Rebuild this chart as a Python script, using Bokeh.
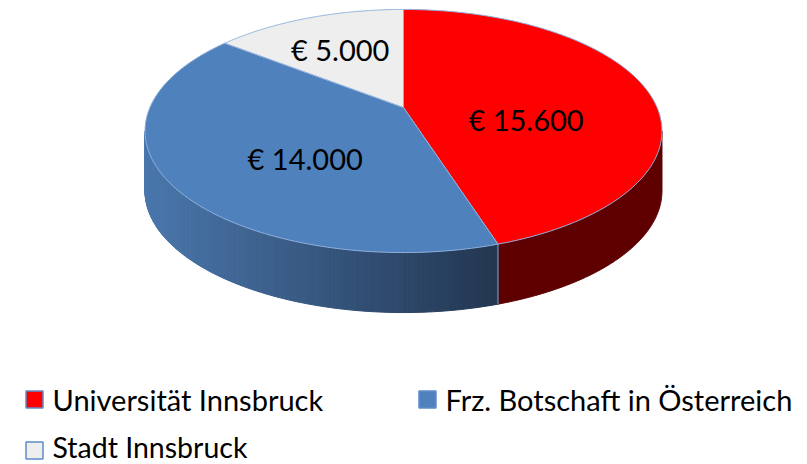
import numpy as np
from bokeh.plotting import figure
from bokeh.models import Range1d
from bokeh.core.properties import value
from bokeh.embed import file_html
from bokeh.resources import INLINE

# ---- data ----
categories = ["Universität Innsbruck", "Frz. Botschaft in Österreich", "Stadt Innsbruck"]
values = [15600, 14000, 5000]
top_colors = ["#ff0000", "#4f81bd", "#eeeeee"]
side_colors = ["#5e0000", None, "#c8c8c8"]  # None -> shaded gradient
labels = ["€ " + f"{v:,}".replace(",", ".") for v in values]

# ---- geometry (page pixel space) ----
CX, CY = 403.0, 107.0
A, B, K = 253.6, 117.0, 0.1934
DEPTH = 60.0


def proj(r, th):
    c = np.cos(th)
    s = np.sin(th)
    d = 1.0 + K * r * c
    return CX + A * r * s / d, CY - B * r * c / d


W, H = 807, 464
p = figure(width=W, height=H, output_backend="svg", toolbar_location=None,
           x_range=Range1d(0, W), y_range=Range1d(H, 0), min_border=0)
p.axis.visible = False
p.grid.visible = False
p.outline_line_color = None
p.background_fill_color = "white"
p.border_fill_color = "white"

vals = np.array(values, dtype=float)
frac = vals / vals.sum()
ends = np.cumsum(frac) * 2 * np.pi
starts = np.concatenate([[0.0], ends[:-1]])

# ---- side wall (front facing part) ----
th_r = np.arccos(-K)
th_l = 2 * np.pi - th_r
xmin = proj(1, th_l)[0]
c_left = np.array([74, 119, 172])
c_right = np.array([34, 54, 80])
sx, sy, sc = [], [], []
for i, (s0, e0) in enumerate(zip(starts, ends)):
    a0, a1 = max(s0, th_r), min(e0, th_l)
    if a1 <= a0:
        continue
    if side_colors[i] is not None:
        arc = np.linspace(a0, a1, 150)
        ax, ay = proj(1, arc)
        sx.append(list(np.concatenate([ax, ax[::-1]])))
        sy.append(list(np.concatenate([ay, ay[::-1] + DEPTH])))
        sc.append(side_colors[i])
    else:
        xr = proj(1, a0)[0]
        tt = np.linspace(a0, a1, 161)
        for t0, t1 in zip(tt[:-1], tt[1:]):
            x0, y0 = proj(1, t0)
            x1, y1 = proj(1, t1)
            f = np.clip((0.5 * (x0 + x1) - xmin) / (xr - xmin), 0, 1)
            col = c_left + (c_right - c_left) * f
            color = "#%02x%02x%02x" % tuple(int(round(v)) for v in col)
            sx.append([x0, x1, x1, x0])
            sy.append([y0, y1, y1 + DEPTH, y0 + DEPTH])
            sc.append(color)
p.patches(sx, sy, fill_color=sc, line_color=sc, line_width=1)

for b in ends:
    if th_r < b < th_l:
        bx, by = proj(1, b)
        p.segment(x0=[bx], y0=[by], x1=[bx], y1=[by + DEPTH], line_color="#7fa3d3", line_width=1)

# ---- top face ----
txs, tys, cxs, cys = [], [], [], []
for s0, e0 in zip(starts, ends):
    arc = np.linspace(s0, e0, 200)
    ax, ay = proj(1, arc)
    xs = np.concatenate([[CX], ax])
    ys = np.concatenate([[CY], ay])
    txs.append(list(xs))
    tys.append(list(ys))
    x2 = np.roll(xs, -1)
    y2 = np.roll(ys, -1)
    cr = xs * y2 - x2 * ys
    ar = cr.sum() / 2
    cxs.append(((xs + x2) * cr).sum() / (6 * ar))
    cys.append(((ys + y2) * cr).sum() / (6 * ar))
p.patches(txs, tys, fill_color=top_colors, line_color="#8fb0dc", line_width=1)

p.text(x=cxs, y=cys, text=labels, text_align="center", text_baseline="middle",
       text_font=value("Lato"), text_font_size="29px", text_color="black")

# ---- legend ----
leg_x = [34, 427, 34]
leg_y = [399, 399, 450]
p.scatter(x=leg_x, y=leg_y, marker="square", size=17, fill_color=top_colors,
          line_color="#5f8ccb", line_width=1.5)
p.text(x=[v + 18 for v in leg_x[:2]], y=leg_y[:2], text=categories[:2], text_align="left",
       text_baseline="middle", text_font=value("Lato"), text_font_size="29px",
       text_color="black")
p.text(x=[leg_x[2] + 18], y=[leg_y[2] - 4], text=[categories[2]], text_align="left",
       text_baseline="middle", text_font=value("Lato"), text_font_size="28.5px",
       text_color="black")

open("out.html", "w").write(file_html(p, INLINE))
